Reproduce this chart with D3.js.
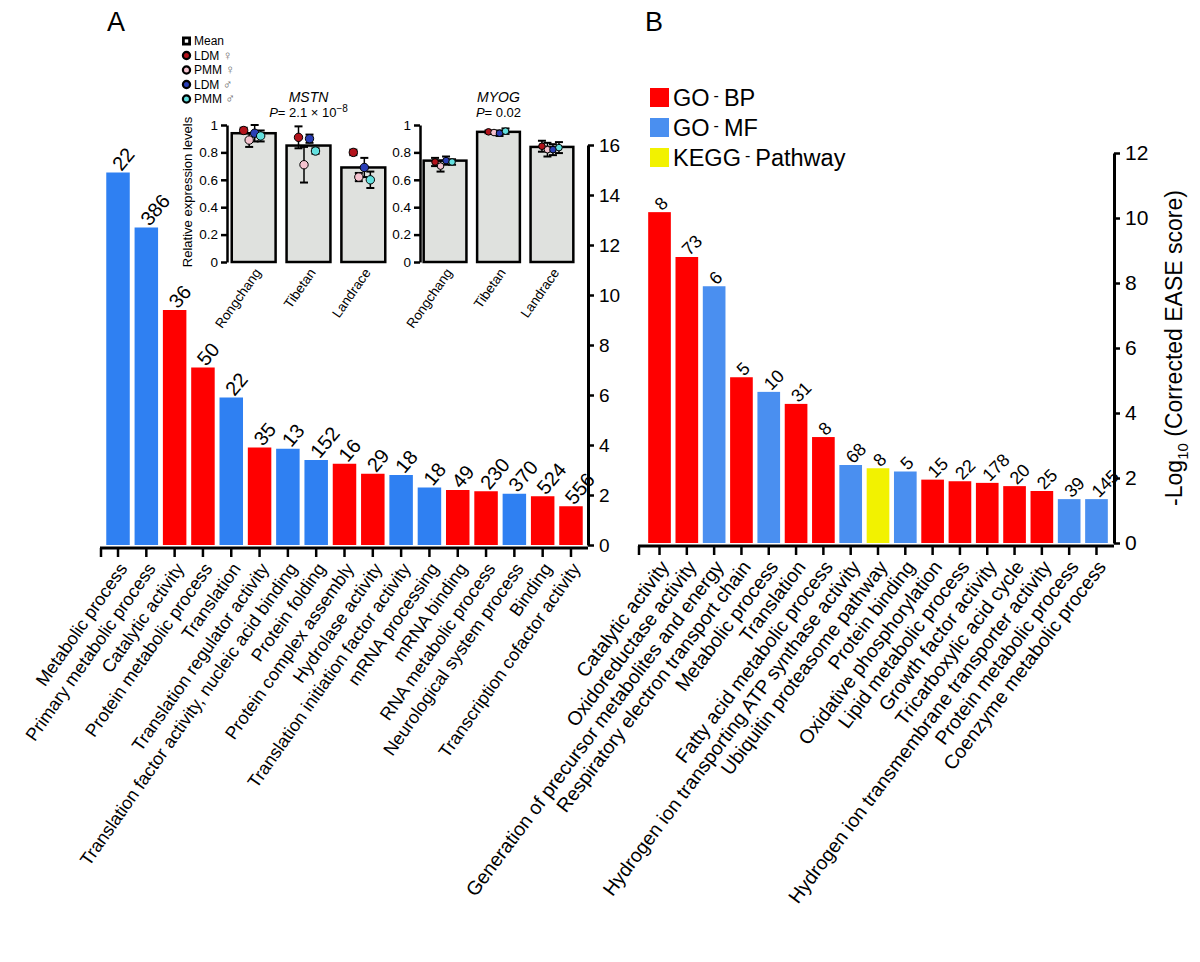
<!DOCTYPE html>
<html><head><meta charset="utf-8">
<script src="https://cdn.jsdelivr.net/npm/d3@7"></script>
<style>
body{margin:0;background:#fff}
svg{display:block}
text{font-family:"Liberation Sans",Arial,sans-serif;fill:#000}
</style>
</head><body>
<svg id="c" width="1200" height="962"></svg>
<script>
// ---------- Panel A data ----------
const catsA = ["Metabolic process","Primary metabolic process","Catalytic activity","Protein metabolic process","Translation","Translation regulator activity","Translation factor activity, nucleic acid binding","Protein folding","Protein complex assembly","Hydrolase activity","Translation initiation factor activity","mRNA processing","mRNA binding","RNA metabolic process","Neurological system process","Binding","Transcription cofactor activity"];
const valsA = [14.9,12.7,9.4,7.1,5.9,3.9,3.85,3.4,3.25,2.85,2.8,2.3,2.2,2.15,2.05,1.95,1.55];
const countsA = [22,386,36,50,22,35,13,152,16,29,18,18,49,230,370,524,556];
const typesA = ["MF","MF","BP","BP","MF","BP","MF","MF","BP","BP","MF","MF","BP","BP","MF","BP","BP"];
const ticksA = [0,2,4,6,8,10,12,14,16];

// ---------- Panel B data ----------
const catsB = ["Catalytic activity","Oxidoreductase activity","Generation of precursor metabolites and energy","Respiratory electron transport chain","Metabolic process","Translation","Fatty acid metabolic process","Hydrogen ion transporting ATP synthase activity","Ubiquitin proteasome pathway","Protein binding","Oxidative phosphorylation","Lipid metabolic process","Growth factor activity","Tricarboxylic acid cycle","Hydrogen ion transmembrane transporter activity","Protein metabolic process","Coenzyme metabolic process"];
const valsB = [10.18,8.8,7.9,5.1,4.65,4.28,3.26,2.4,2.3,2.2,1.95,1.9,1.85,1.75,1.6,1.35,1.35];
const countsB = [8,73,6,5,10,31,8,68,8,5,15,22,178,20,25,39,145];
const typesB = ["BP","BP","MF","BP","MF","BP","BP","MF","KEGG","MF","BP","BP","BP","BP","BP","MF","MF"];
const ticksB = [0,2,4,6,8,10,12];
const legendB = [["GO","BP","BP"],["GO","MF","MF"],["KEGG","Pathway","KEGG"]];

// ---------- Inset data ----------
const breeds = ["Rongchang","Tibetan","Landrace"];
const groups = ["LDM ♀","PMM ♀","LDM ♂","PMM ♂"];
const groupLabel = ["LDM","PMM","LDM","PMM"];
const groupSym = ["♀","♀","♂","♂"];
const groupColors = ["#b3131b","#f5c3cf","#2a3eb5","#63e0df"];
const mstnMean = [0.94,0.85,0.69];
const mstnPts = [[0.96,0.89,0.94,0.92],[0.91,0.71,0.90,0.81],[0.80,0.62,0.69,0.60]];
const mstnErr = [[0.02,0.05,0.06,0.04],[0.08,0.13,0.03,0.02],[0.02,0.03,0.07,0.06]];
const myogMean = [0.74,0.95,0.84];
const myogPts = [[0.73,0.70,0.74,0.73],[0.95,0.945,0.94,0.955],[0.845,0.82,0.82,0.835]];
const myogErr = [[0.03,0.04,0.03,0.02],[0.01,0.01,0.02,0.02],[0.04,0.05,0.04,0.04]];
const insetTicks = [0,0.2,0.4,0.6,0.8,1];

const colA = {BP:"#ff0000", MF:"#2f80f2"};
const colB = {BP:"#ff0000", MF:"#4a8ff0", KEGG:"#f2f200"};

const svg = d3.select("#c");

// panel letters
svg.append("text").attr("x",107).attr("y",31).style("font-size","27px").text("A");
svg.append("text").attr("x",645).attr("y",31).style("font-size","27px").text("B");

function styleAxis(g, fs){
  g.select(".domain").attr("stroke","#000").attr("stroke-width",3);
  g.selectAll(".tick line").attr("stroke","#000").attr("stroke-width",2.5);
  g.selectAll(".tick text").style("font-size",fs).attr("fill","#000").style("font-family",'"Liberation Sans",Arial,sans-serif');
}

// ================= Panel A =================
const baseA = 545;
const xA = d3.scaleBand().domain(catsA).range([104,585]).paddingInner(0.17).paddingOuter(0.08);
const yA = d3.scaleLinear().domain([0,16]).range([baseA,145]);
const gA = svg.append("g");
gA.selectAll("rect.bar").data(catsA).join("rect")
  .attr("x",d=>xA(d)).attr("y",(d,i)=>yA(valsA[i]))
  .attr("width",xA.bandwidth()).attr("height",(d,i)=>yA(0)-yA(valsA[i]))
  .attr("fill",(d,i)=>colA[typesA[i]]);
gA.selectAll("text.val").data(catsA).join("text")
  .attr("transform",(d,i)=>`translate(${xA(d)+xA.bandwidth()/2-2},${yA(valsA[i])-5}) rotate(-50)`)
  .attr("dy","0.35em").style("font-size","20px").text((d,i)=>countsA[i]);
const axA = gA.append("g").attr("transform","translate(588,0)")
  .call(d3.axisRight(yA).tickValues(ticksA).tickSize(6).tickPadding(5).tickSizeOuter(0));
styleAxis(axA,"19px");
const axAx = gA.append("g").attr("transform",`translate(0,${baseA+3})`)
  .call(d3.axisBottom(xA).tickSize(9).tickSizeOuter(0).tickFormat(""));
styleAxis(axAx,"1px");
axAx.select(".domain").attr("d","M100,0H588");
gA.append("line").attr("x1",101).attr("x2",101).attr("y1",baseA+3).attr("y2",baseA+12).attr("stroke","#000").attr("stroke-width",2.5);
gA.selectAll("text.cat").data(catsA).join("text")
  .attr("transform",d=>`translate(${xA(d)+xA.bandwidth()/2+5},${baseA+20}) rotate(-55)`)
  .attr("text-anchor","end").attr("dy","0.35em").style("font-size","18px").text(d=>d);

// ================= Inset =================
const yI = d3.scaleLinear().domain([0,1]).range([262,125]);
function inset(x0, x1, axisX, means, pts, errs, gene, pText, pSup, r){
  const g = svg.append("g");
  const x = d3.scaleBand().domain(breeds).range([x0,x1]).paddingInner(0.2).paddingOuter(0.05);
  g.selectAll("rect").data(breeds).join("rect")
    .attr("x",d=>x(d)).attr("y",(d,i)=>yI(means[i]))
    .attr("width",x.bandwidth()).attr("height",(d,i)=>yI(0)-yI(means[i]))
    .attr("fill","#dfe1de").attr("stroke","#000").attr("stroke-width",2.5);
  const offs = [-10,-4.5,1,7];
  breeds.forEach((b,i)=>{
    const cx = x(b)+x.bandwidth()/2;
    groups.forEach((gname,j)=>{
      const px = cx+offs[j], v = pts[i][j], e = errs[i][j];
      g.append("line").attr("x1",px).attr("x2",px).attr("y1",yI(v-e)).attr("y2",yI(v+e)).attr("stroke","#000").attr("stroke-width",1.5);
      [v-e,v+e].forEach(t=>g.append("line").attr("x1",px-4).attr("x2",px+4).attr("y1",yI(t)).attr("y2",yI(t)).attr("stroke","#000").attr("stroke-width",2));
    });
    groups.forEach((gname,j)=>{
      g.append("circle").attr("cx",cx+offs[j]).attr("cy",yI(pts[i][j])).attr("r",r)
        .attr("fill",groupColors[j]).attr("stroke","#000").attr("stroke-width",1);
    });
  });
  const ax = g.append("g").attr("transform",`translate(${axisX},0)`)
    .call(d3.axisLeft(yI).tickValues(insetTicks).tickSize(6).tickPadding(3).tickSizeOuter(0).tickFormat(d=>d===0?"0":d===1?"1":d3.format(".1f")(d)));
  styleAxis(ax,"13.5px");
  ax.select(".domain").attr("stroke-width",2.5);
  g.selectAll("text.br").data(breeds).join("text")
    .attr("transform",d=>`translate(${x(d)+x.bandwidth()/2+4},${270}) rotate(-55)`)
    .attr("text-anchor","end").attr("dy","0.35em").style("font-size","13.5px").text(d=>d);
  const cxm = (x0+x1)/2;
  g.append("text").attr("x",cxm).attr("y",102).attr("text-anchor","middle")
    .style("font-size","14px").style("font-style","italic").text(gene);
  const pt = g.append("text").attr("x",cxm).attr("y",117).attr("text-anchor","middle").style("font-size","13px");
  pt.append("tspan").style("font-style","italic").text("P");
  pt.append("tspan").text(pText);
  if(pSup){ pt.append("tspan").attr("dy",-5).style("font-size","10px").text(pSup); }
}
inset(229,388,227,mstnMean,mstnPts,mstnErr,"MSTN","= 2.1 × 10","−8",4.2);
inset(421,576,420,myogMean,myogPts,myogErr,"MYOG","= 0.02",null,3.3);
svg.append("text").attr("transform","translate(192,192) rotate(-90)").attr("text-anchor","middle")
  .style("font-size","13px").text("Relative expression levels");

// inset legend
const lg = svg.append("g");
const legY = [41,55.5,70,84.5,99];
lg.append("rect").attr("x",182).attr("y",legY[0]-4.5).attr("width",9).attr("height",9).attr("fill","#000");
lg.append("rect").attr("x",184.8).attr("y",legY[0]-1.7).attr("width",3.4).attr("height",3.4).attr("fill","#fff");
lg.append("text").attr("x",194).attr("y",legY[0]).attr("dy","0.35em").style("font-size","12px").text("Mean");
groups.forEach((gname,j)=>{
  const yy = legY[j+1];
  lg.append("circle").attr("cx",186.5).attr("cy",yy).attr("r",3.6).attr("fill",groupColors[j]).attr("stroke","#000").attr("stroke-width",2.2);
  const t = lg.append("text").attr("x",194).attr("y",yy).attr("dy","0.35em").style("font-size","12px").text(groupLabel[j]+" ");
  t.append("tspan").style("font-size","13px").style("fill","#666").text(groupSym[j]);
});

// ================= Panel B =================
const baseB = 543;
const xB = d3.scaleBand().domain(catsB).range([646,1110]).paddingInner(0.17).paddingOuter(0.08);
const yB = d3.scaleLinear().domain([0,12]).range([baseB,153]);
const gB = svg.append("g");
gB.selectAll("rect.bar").data(catsB).join("rect")
  .attr("x",d=>xB(d)).attr("y",(d,i)=>yB(valsB[i]))
  .attr("width",xB.bandwidth()).attr("height",(d,i)=>yB(0)-yB(valsB[i]))
  .attr("fill",(d,i)=>colB[typesB[i]]);
gB.selectAll("text.val").data(catsB).join("text")
  .attr("transform",(d,i)=>`translate(${xB(d)+xB.bandwidth()/2-2},${yB(valsB[i])-5}) rotate(-45)`)
  .attr("dy","0.35em").style("font-size","18px").text((d,i)=>countsB[i]);
const axB = gB.append("g").attr("transform","translate(1114,0)")
  .call(d3.axisRight(yB).tickValues(ticksB).tickSize(6).tickPadding(5).tickSizeOuter(0));
styleAxis(axB,"21px");
const axBx = gB.append("g").attr("transform",`translate(0,${baseB+3})`)
  .call(d3.axisBottom(xB).tickSize(9).tickSizeOuter(0).tickFormat(""));
styleAxis(axBx,"1px");
axBx.select(".domain").attr("d","M638,0H1114");
gB.append("line").attr("x1",639).attr("x2",639).attr("y1",baseB+3).attr("y2",baseB+12).attr("stroke","#000").attr("stroke-width",2.5);
gB.selectAll("text.cat").data(catsB).join("text")
  .attr("transform",d=>`translate(${xB(d)+xB.bandwidth()/2+5},${baseB+20}) rotate(-53)`)
  .attr("text-anchor","end").attr("dy","0.35em").style("font-size","19.5px").text(d=>d);
// y title
const yt = svg.append("text").attr("transform","translate(1182,348) rotate(-90)").attr("text-anchor","middle").style("font-size","23px");
yt.append("tspan").text("-Log");
yt.append("tspan").attr("dy",6).style("font-size","15px").text("10");
yt.append("tspan").attr("dy",-6).text(" (Corrected EASE score)");

// legend B
const lb = svg.append("g");
legendB.forEach((row,i)=>{
  const yy = 88 + i*30;
  lb.append("rect").attr("x",650).attr("y",yy).attr("width",19).attr("height",19).attr("fill",colB[row[2]]);
  const t = lb.append("text").attr("x",673).attr("y",yy+18).style("font-size","23.5px");
  t.append("tspan").text(row[0]);
  t.append("tspan").attr("dx",4).attr("dy",-5).style("font-size","16px").text("-");
  t.append("tspan").attr("dx",5).attr("dy",5).text(row[1]);
});
</script>
</body></html>
